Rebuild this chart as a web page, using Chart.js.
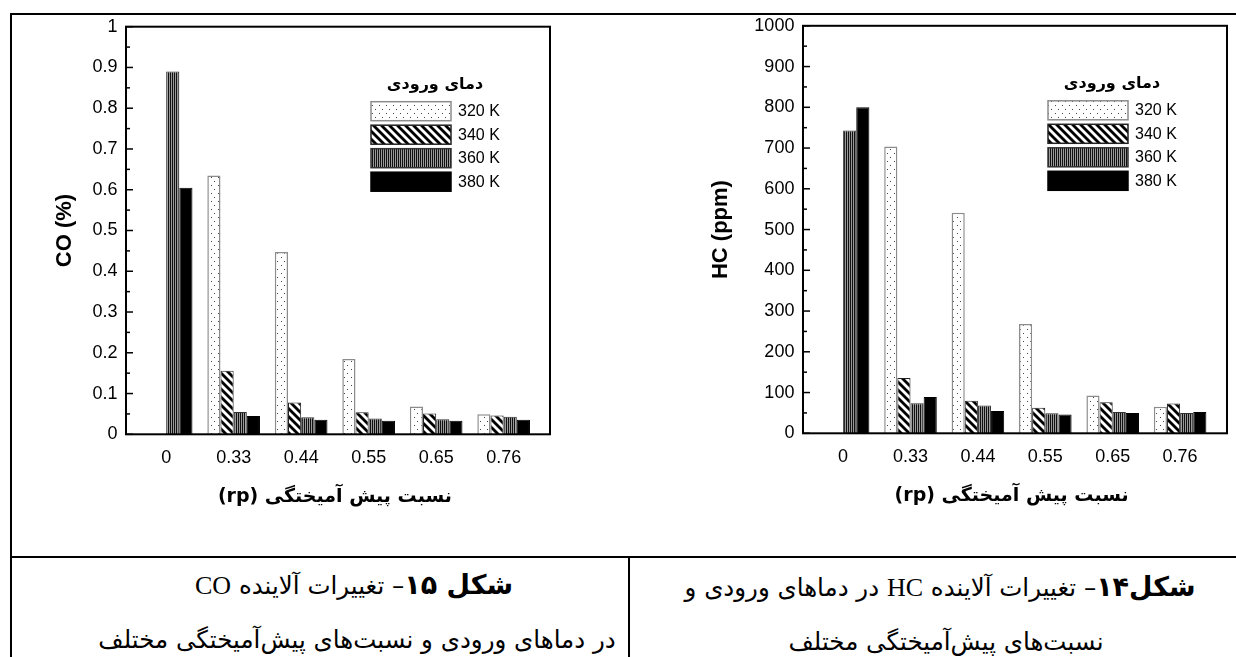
<!DOCTYPE html>
<html lang="fa">
<head>
<meta charset="utf-8">
<script src="https://cdn.jsdelivr.net/npm/chart.js@4.4.0/dist/chart.umd.min.js"></script>
<style>
  html, body { margin: 0; padding: 0; background: #fff; }
  body { width: 1236px; height: 657px; position: relative; overflow: hidden; font-family: 'DejaVu Sans', sans-serif; }
  .rule { position: absolute; background: #000; }
  .chart { position: absolute; top: 0; height: 530px; }
  .cap { position: absolute; width: 700px; text-align: center; direction: rtl; white-space: nowrap; font-size: 24.5px; color: #000; line-height: 1; }
  .cap b { font-size: 27px; }
  .cap .lat { font-family: 'Liberation Serif', serif; font-size: 26px; }
</style>
</head>
<body>
<div class="rule" style="left:10px;top:13px;width:1226px;height:2px"></div>
<div class="rule" style="left:10px;top:13px;width:2px;height:644px"></div>
<div class="rule" style="left:10px;top:556px;width:1226px;height:2px"></div>
<div class="rule" style="left:628px;top:556px;width:2px;height:101px"></div>

<div class="chart" style="left:0;width:620px"><canvas id="coChart"></canvas></div>
<div class="chart" style="left:620px;width:616px"><canvas id="hcChart"></canvas></div>

<div class="cap" style="left:4px;top:571px"><b>شکل ۱۵</b>– تغییرات آلاینده <span class="lat">CO</span></div>
<div class="cap" style="left:7px;top:628px">در دماهای ورودی و نسبت‌های پیش‌آمیختگی مختلف</div>
<div class="cap" style="left:590px;top:573px"><b>شکل۱۴</b>– تغییرات آلاینده <span class="lat">HC</span> در دماهای ورودی و</div>
<div class="cap" style="left:596px;top:630px">نسبت‌های پیش‌آمیختگی مختلف</div>

<script>
// premixing ratio groups and inlet temperatures
const rpLabels = ['0', '0.33', '0.44', '0.55', '0.65', '0.76'];
const tempLabels = ['320 K', '340 K', '360 K', '380 K'];

// CO (%)
const co320 = [null, 0.635, 0.447, 0.185, 0.068, 0.049];
const co340 = [null, 0.156, 0.078, 0.054, 0.051, 0.046];
const co360 = [0.89, 0.055, 0.042, 0.039, 0.037, 0.043];
const co380 = [0.605, 0.045, 0.036, 0.033, 0.033, 0.036];

// HC (ppm)
const hc320 = [null, 704, 541, 268, 93, 65];
const hc340 = [null, 136, 80, 63, 76, 73];
const hc360 = [743, 74, 68, 49, 52, 50];
const hc380 = [800, 89, 55, 46, 50, 52];

const coTicks = ['0', '0.1', '0.2', '0.3', '0.4', '0.5', '0.6', '0.7', '0.8', '0.9', '1'];
const hcTicks = ['0', '100', '200', '300', '400', '500', '600', '700', '800', '900', '1000'];

const legendTitle = 'دمای ورودی';
const xTitle = 'نسبت پیش آمیختگی (rp)';

Chart.defaults.font.family = 'Liberation Sans';
Chart.defaults.color = '#000';

// hatch fills like the original plot
const makePattern = (w, h, draw) => {
  const c = document.createElement('canvas');
  c.width = w;
  c.height = h;
  const g = c.getContext('2d');
  g.fillStyle = '#fff';
  g.fillRect(0, 0, w, h);
  draw(g);
  return g.createPattern(c, 'repeat');
};

const dotFill = makePattern(7, 8, (g) => {
  g.fillStyle = '#444';
  g.fillRect(1, 1, 1, 1);
  g.fillRect(4, 5, 1, 1);
});

const diagFill = makePattern(8, 8, (g) => {
  g.strokeStyle = '#000';
  g.lineWidth = 2.8;
  [-8, 0, 8].forEach((o) => {
    g.beginPath();
    g.moveTo(o - 1, -1);
    g.lineTo(o + 9, 9);
    g.stroke();
  });
});

const vertFill = makePattern(2, 1, (g) => {
  g.fillStyle = '#111';
  g.fillRect(0, 0, 1, 1);
  g.fillStyle = '#9a9a9a';
  g.fillRect(1, 0, 1, 1);
});

const barSets = (a, b, c, d) => [
  { label: tempLabels[0], data: a, backgroundColor: dotFill, borderColor: '#8c8c8c', borderWidth: 1.5 },
  { label: tempLabels[1], data: b, backgroundColor: diagFill, borderColor: '#222', borderWidth: 1 },
  { label: tempLabels[2], data: c, backgroundColor: vertFill, borderColor: '#333', borderWidth: 1 },
  { label: tempLabels[3], data: d, backgroundColor: '#000', borderColor: '#000', borderWidth: 1 }
];

// box around the plot, inward y ticks and the legend inside the plot
const framePlugin = {
  id: 'frame',
  afterDraw(chart, args, opts) {
    const { ctx, chartArea: a } = chart;
    const y = chart.scales.y;
    const L = a.left - opts.padLeft;
    const R = a.right + opts.padRight;
    const T = a.top;
    const B = a.bottom;
    const seg = (x1, y1, x2, y2) => {
      ctx.beginPath();
      ctx.moveTo(x1, y1);
      ctx.lineTo(x2, y2);
      ctx.stroke();
    };

    ctx.save();
    ctx.strokeStyle = '#000';
    ctx.lineWidth = 2;
    ctx.strokeRect(L, T, R - L, B - T);

    ctx.lineWidth = 1.5;
    y.ticks.forEach((t, i) => {
      const py = y.getPixelForValue(t.value);
      seg(L, py, L + 7, py);
      if (i < y.ticks.length - 1) {
        const my = y.getPixelForValue((t.value + y.ticks[i + 1].value) / 2);
        seg(L, my, L + 4, my);
      }
    });

    const bx = L + 245;
    const by = T + 75;
    ctx.fillStyle = '#000';
    ctx.font = 'bold 16px "DejaVu Sans"';
    ctx.textAlign = 'center';
    ctx.textBaseline = 'middle';
    ctx.fillText(legendTitle, bx + 64, by - 17);

    chart.data.datasets.forEach((ds, i) => {
      const yy = by + i * 23.5;
      ctx.fillStyle = ds.backgroundColor;
      ctx.fillRect(bx, yy, 80, 19);
      ctx.strokeStyle = ds.borderColor;
      ctx.lineWidth = 1.5;
      ctx.strokeRect(bx, yy, 80, 19);
      ctx.fillStyle = '#000';
      ctx.font = '16px "Liberation Sans"';
      ctx.textAlign = 'left';
      ctx.fillText(ds.label, bx + 87, yy + 10);
    });
    ctx.restore();
  }
};

const makeChart = (id, sets, ticks, yMax, yStep, yTitle, lay) => new Chart(document.getElementById(id), {
  type: 'bar',
  data: { labels: rpLabels, datasets: sets },
  options: {
    responsive: true,
    maintainAspectRatio: false,
    animation: false,
    layout: { padding: lay.padding },
    datasets: { bar: { categoryPercentage: 0.78, barPercentage: 1 } },
    plugins: {
      legend: { display: false },
      tooltip: { enabled: false },
      frame: { padLeft: lay.padLeft, padRight: lay.padRight }
    },
    scales: {
      x: {
        type: 'category',
        offset: true,
        grid: { display: false, drawTicks: false },
        border: { display: false },
        ticks: { font: { size: 18 }, padding: 13, maxRotation: 0 },
        title: {
          display: true,
          text: '\u202B' + xTitle + '\u202C',
          font: { family: 'DejaVu Sans', weight: 'bold', size: 19 },
          padding: 0
        },
        afterFit: (s) => { s.height = 74; }
      },
      y: {
        min: 0,
        max: yMax,
        grid: { display: false, drawTicks: false },
        border: { display: false },
        ticks: { stepSize: yStep, font: { size: 18 }, padding: 15, callback: (v, i) => ticks[i] },
        title: { display: true, text: yTitle, font: { weight: 'bold', size: 22 }, padding: 0 },
        afterFit: (s) => { s.width = lay.yWidth; }
      }
    }
  },
  plugins: [framePlugin]
});

makeChart('coChart', barSets(co320, co340, co360, co380), coTicks, 1, 0.1, 'CO (%)', {
  padding: { top: 26.7, left: 51.8, right: 82.6, bottom: 21.7 },
  yWidth: 80.6,
  padLeft: 6.4,
  padRight: 12.6
});

makeChart('hcChart', barSets(hc320, hc340, hc360, hc380), hcTicks, 1000, 100, 'HC (ppm)', {
  padding: { top: 25, left: 87.8, right: 22.2, bottom: 22.7 },
  yWidth: 101.6,
  padLeft: 6.4,
  padRight: 13.2
});
</script>
</body>
</html>
